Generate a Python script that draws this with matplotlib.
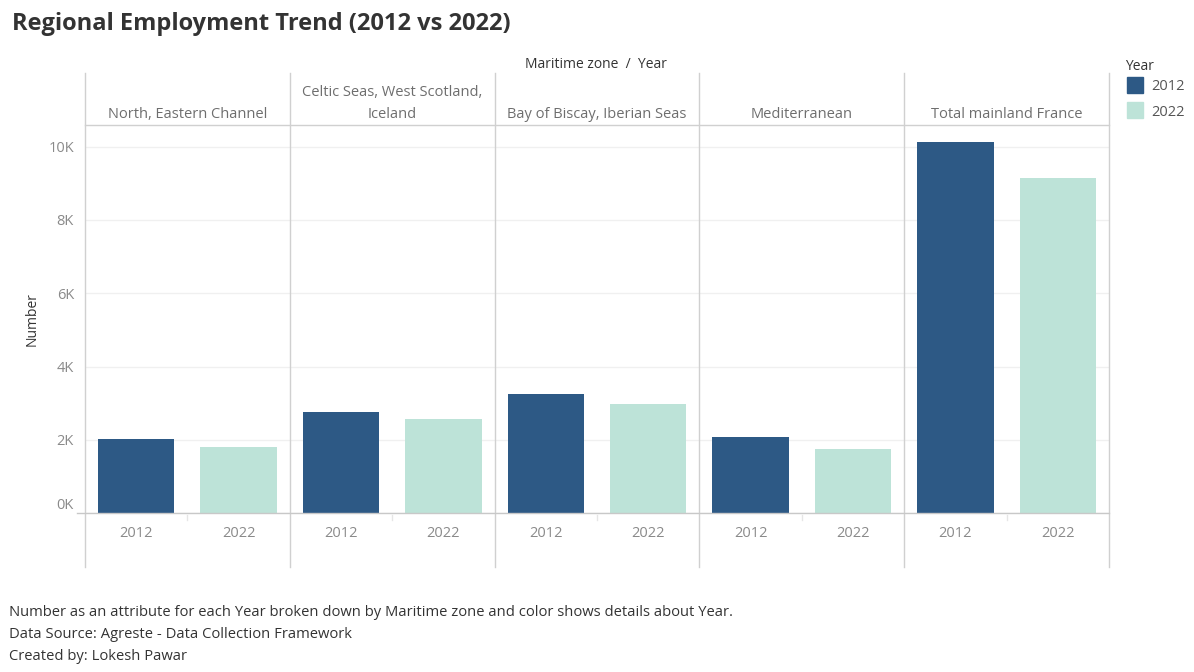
import matplotlib
matplotlib.use('Agg')
import matplotlib.pyplot as plt
from matplotlib.lines import Line2D
from matplotlib.patches import Rectangle
from matplotlib.ticker import FuncFormatter

plt.rcParams['font.family'] = ['Open Sans', 'DejaVu Sans']

# data
zones = ['North, Eastern Channel', 'Celtic Seas, West Scotland,\nIceland',
         'Bay of Biscay, Iberian Seas', 'Mediterranean', 'Total mainland France']
years = ['2012', '2022']
num_2012 = [2020, 2750, 3245, 2080, 10120]
num_2022 = [1820, 2570, 2980, 1760, 9140]
colors = ['#2d5985', '#bde3d8']
yticks = [0, 2000, 4000, 6000, 8000, 10000]

W, H = 1194, 672
fig = plt.figure(figsize=(W / 100, H / 100), dpi=100)

# pixel helpers
def fx(x):
    return x / W

def fy(y):
    return 1 - y / H

def hline(x0, x1, y, c='#d0d0d0', lw=1.0):
    fig.add_artist(Line2D([fx(x0), fx(x1)], [fy(y), fy(y)], color=c, lw=lw,
                          transform=fig.transFigure))

def vline(x, y0, y1, c='#d0d0d0', lw=1.0):
    fig.add_artist(Line2D([fx(x), fx(x)], [fy(y0), fy(y1)], color=c, lw=lw,
                          transform=fig.transFigure))

left, right = 85, 1109
pw = (right - left) / len(zones)
top, base = 125, 513.3
tick_c = '#8a8a8a'
dark = '#333333'

for i, zone in enumerate(zones):
    x0 = left + i * pw
    ax = fig.add_axes([fx(x0), fy(base), pw / W, (base - top) / H])
    vals = [num_2012[i], num_2022[i]]
    ax.bar([0, 1], vals, width=0.745, color=colors)
    ax.set_xlim(-0.5, 1.5)
    ax.set_ylim(0, 10590)
    ax.set_yticks(yticks)
    ax.yaxis.grid(True, color='#f0f0f0', lw=1)
    ax.set_axisbelow(True)
    ax.set_xticks([0, 1])
    ax.set_xticklabels(years)
    ax.tick_params(axis='x', length=0, pad=9, labelsize=10.5, labelcolor=tick_c)
    for s in ax.spines.values():
        s.set_visible(False)
    if i == 0:
        ax.yaxis.set_major_formatter(FuncFormatter(lambda v, p: '%dK' % (v / 1000)))
        ax.tick_params(axis='y', length=0, pad=8, labelsize=10.5, labelcolor=tick_c)
        ax.set_ylabel('Number', color=dark, fontsize=10, labelpad=6)
        ax.get_yticklabels()[0].set_va('bottom')
    else:
        ax.tick_params(axis='y', length=0, labelleft=False)

    # header text
    lines = zone.split('\n')
    for k, line in enumerate(reversed(lines)):
        fig.text(fx(x0 + pw / 2), fy(115 - 22 * k), line, ha='center', va='center',
                 fontsize=10.5, color='#6e6e6e')

# panel borders
for i in range(len(zones) + 1):
    vline(left + i * pw, 73, 567)
hline(left, right, top)
hline(left - 8, right, base, c='#c8c8c8')

# small ticks between years under axis
for i in range(len(zones)):
    vline(left + i * pw + pw / 2, base + 2, base + 7, c='#e6e6e6')

fig.text(fx(12), fy(24), 'Regional Employment Trend (2012 vs 2022)', fontsize=17,
         fontweight='bold', color=dark, ha='left', va='center')
fig.text(fx(596), fy(64), 'Maritime zone  /  Year', fontsize=10, color=dark,
         ha='center', va='center')

# legend
fig.text(fx(1125), fy(66), 'Year', fontsize=10, color=dark, ha='left', va='center')
for k, (yr, c) in enumerate(zip(years, colors)):
    yy = 77 + 25 * k
    fig.add_artist(Rectangle((fx(1127), fy(yy + 16)), 16 / W, 16 / H, color=c,
                             transform=fig.transFigure))
    fig.text(fx(1151), fy(yy + 10), yr, fontsize=10.5, color='#555555', ha='left',
             va='center')

notes = ['Number as an attribute for each Year broken down by Maritime zone and color shows details about Year.',
         'Data Source: Agreste - Data Collection Framework',
         'Created by: Lokesh Pawar']
for k, n in enumerate(notes):
    fig.text(fx(9), fy(612 + 22.5 * k), n, fontsize=10.6, color=dark, ha='left', va='center')

fig.savefig('out.png', dpi=100, facecolor='white')
